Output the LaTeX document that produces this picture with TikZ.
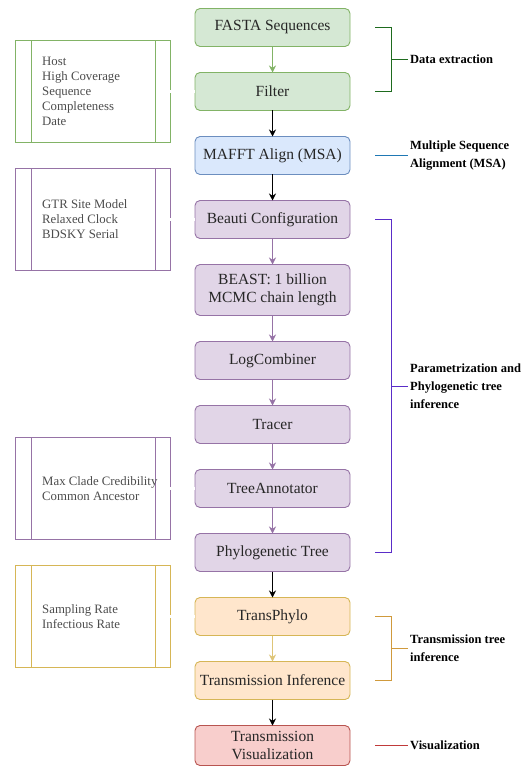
\documentclass[tikz,border=0pt]{standalone}
\usepackage{fontspec}
\setmainfont{Liberation Serif}
\usetikzlibrary{positioning,arrows.meta,calc}

\definecolor{greenline}{HTML}{82B366}
\definecolor{greenfill}{HTML}{D5E8D4}
\definecolor{blueline}{HTML}{6C8EBF}
\definecolor{bluefill}{HTML}{DAE8FC}
\definecolor{purpleline}{HTML}{9673A6}
\definecolor{purplefill}{HTML}{E1D5E7}
\definecolor{goldline}{HTML}{D6B656}
\definecolor{orangefill}{HTML}{FFE6CC}
\definecolor{redline}{HTML}{B85450}
\definecolor{redfill}{HTML}{F8CECC}
\definecolor{extractcol}{HTML}{1E6B1E}
\definecolor{msacol}{HTML}{1F78B4}
\definecolor{paramcol}{HTML}{5A2DC8}
\definecolor{transcol}{HTML}{D09A3C}
\definecolor{viscol}{HTML}{C03A3A}

\tikzset{
  stage/.style={draw,rounded corners=5pt,line width=0.9pt,outer sep=0pt,minimum width=155pt,minimum height=38pt,
    align=center,inner sep=2pt,text=black!85,font=\fontsize{15.5}{18}\selectfont},
  listbox/.style={draw=#1,line width=0.9pt,outer sep=0pt,minimum width=155pt,minimum height=102pt},
  listtext/.style={inner sep=0pt,align=left,text=black!70,font=\fontsize{12.8}{15}\selectfont},
  flow/.style={-{Stealth[length=7pt,width=7pt]},line width=0.9pt},
  link/.style={double,double distance=2.2pt,line width=0.8pt},
  bracket/.style={line width=1pt},
  phase/.style={inner sep=2pt,align=left,font=\bfseries\fontsize{12.5}{18}\selectfont}
}

\begin{document}
\begin{tikzpicture}[x=1pt,y=-1pt,node distance=26pt]
  \useasboundingbox (0,0) rectangle (522,767);

  % main pipeline
  \node[stage,draw=greenline,fill=greenfill] (fasta) at (272.5,27.5) {FASTA Sequences};
  \node[stage,draw=greenline,fill=greenfill,below=of fasta] (filter) {Filter};
  \node[stage,draw=blueline,fill=bluefill,below=of filter] (mafft) {MAFFT Align (MSA)};
  \node[stage,draw=purpleline,fill=purplefill,below=of mafft] (beauti) {Beauti Configuration};
  \node[stage,draw=purpleline,fill=purplefill,below=of beauti,minimum height=51pt] (beast) {BEAST: 1 billion\\MCMC chain length};
  \node[stage,draw=purpleline,fill=purplefill,below=of beast] (logcomb) {LogCombiner};
  \node[stage,draw=purpleline,fill=purplefill,below=of logcomb] (tracer) {Tracer};
  \node[stage,draw=purpleline,fill=purplefill,below=of tracer] (treeann) {TreeAnnotator};
  \node[stage,draw=purpleline,fill=purplefill,below=of treeann] (phylo) {Phylogenetic Tree};
  \node[stage,draw=goldline,fill=orangefill,below=of phylo] (transphylo) {TransPhylo};
  \node[stage,draw=goldline,fill=orangefill,below=of transphylo] (transinf) {Transmission Inference};
  \node[stage,draw=redline,fill=redfill,below=of transinf,minimum height=40pt] (transvis) {Transmission\\Visualization};

  \path (fasta) edge[flow,greenline] (filter)
    (filter) edge[flow] (mafft)
    (mafft) edge[flow] (beauti)
    (beauti) edge[flow,purpleline] (beast)
    (beast) edge[flow,purpleline] (logcomb)
    (logcomb) edge[flow,purpleline] (tracer)
    (tracer) edge[flow,purpleline] (treeann)
    (treeann) edge[flow,purpleline] (phylo)
    (phylo) edge[flow] (transphylo)
    (transphylo) edge[flow,goldline!80] (transinf)
    (transinf) edge[flow] (transvis);

  % parameter lists
  \node[listbox=greenline,left=25pt of filter] (filterlist) {};
  \node[listbox=purpleline,left=25pt of beauti] (beautilist) {};
  \node[listbox=purpleline,left=25pt of treeann] (treeannlist) {};
  \node[listbox=goldline,left=25pt of transphylo] (transphylolist) {};
  \foreach \b/\c in {filterlist/greenline,beautilist/purpleline,treeannlist/purpleline,transphylolist/goldline}
    \draw[\c,line width=0.9pt] ([xshift=16pt]\b.north west) -- ([xshift=16pt]\b.south west)
      ([xshift=-15pt]\b.north east) -- ([xshift=-15pt]\b.south east);

  \node[listtext,right=27pt of filterlist.west] (filtertext) {Host\\High Coverage\\Sequence\\Completeness\\Date};
  \node[listtext,right=27pt of beautilist.west] (beautitext) {GTR Site Model\\Relaxed Clock\\BDSKY Serial};
  \node[listtext,right=27pt of treeannlist.west] (treeanntext) {Max Clade Credibility\\Common Ancestor};
  \node[listtext,right=27pt of transphylolist.west] (transphylotext) {Sampling Rate\\Infectious Rate};

  \draw[link,greenline] (filterlist) -- (filter);
  \draw[link,purpleline] (beautilist) -- (beauti);
  \draw[link,purpleline] (treeannlist) -- (treeann);
  \draw[link,goldline] (transphylolist) -- (transphylo);

  % phases
  \node[phase,right=58pt of $(fasta.east)!0.5!(filter.east)$] (extractlabel) {Data extraction};
  \node[phase,right=58pt of mafft.east] (msalabel) {Multiple Sequence\\Alignment (MSA)};
  \node[phase,right=58pt of $(beauti.east)!0.5!(phylo.east)$] (paramlabel) {Parametrization and\\Phylogenetic tree\\inference};
  \node[phase,right=58pt of $(transphylo.east)!0.5!(transinf.east)$] (translabel) {Transmission tree\\inference};
  \node[phase,right=58pt of transvis.east] (vislabel) {Visualization};

  \draw[bracket,extractcol] ([xshift=25pt]fasta.east) -| ([xshift=41pt]filter.east) -- ([xshift=25pt]filter.east);
  \draw[bracket,extractcol] ($(fasta.east)!0.5!(filter.east)+(41pt,0)$) -- (extractlabel.west);
  \draw[bracket,msacol] ([xshift=25pt]mafft.east) -- (msalabel.west);
  \draw[bracket,paramcol] ([xshift=25pt]beauti.east) -| ([xshift=41pt]phylo.east) -- ([xshift=25pt]phylo.east);
  \draw[bracket,paramcol] ($(beauti.east)!0.5!(phylo.east)+(41pt,0)$) -- (paramlabel.west);
  \draw[bracket,transcol] ([xshift=25pt]transphylo.east) -| ([xshift=41pt]transinf.east) -- ([xshift=25pt]transinf.east);
  \draw[bracket,transcol] ($(transphylo.east)!0.5!(transinf.east)+(41pt,0)$) -- (translabel.west);
  \draw[bracket,viscol] ([xshift=25pt]transvis.east) -- (vislabel.west);
\end{tikzpicture}
\end{document}
